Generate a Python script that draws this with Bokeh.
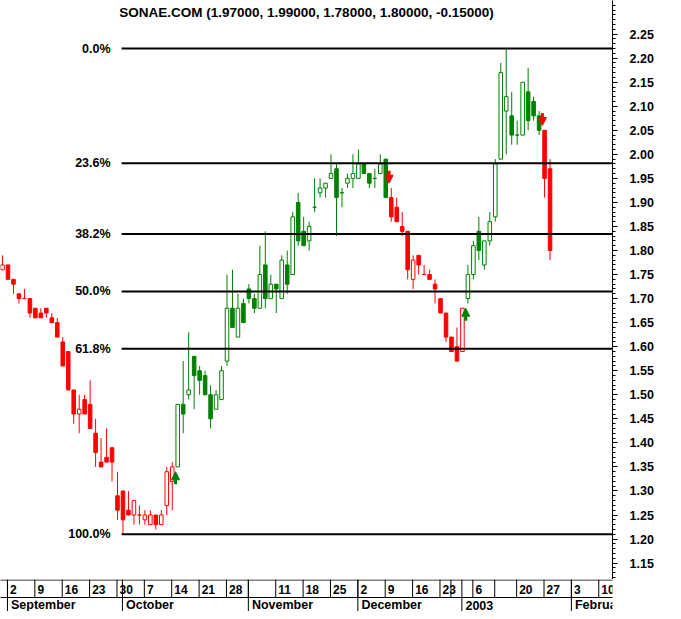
import numpy as np
from bokeh.plotting import figure
from bokeh.models import (ColumnDataSource, Range1d, LinearAxis, FixedTicker,
                          NumeralTickFormatter, Label, Arrow, NormalHead)
from bokeh.layouts import column
from bokeh.embed import file_html
from bokeh.resources import INLINE
from bokeh.core.properties import value

FONT = "Liberation Sans"
RED = "#ff0000"
GREEN = "#008000"

symbol = "SONAE.COM"

# trading-bar index (-1 = last bar of August, 0 = 2 Sep 2002, 99 = 28 Jan 2003)
bars = list(range(-1, 100))

opens = [1.76,
         1.77, 1.74, 1.71, 1.70, 1.70, 1.68, 1.67, 1.68, 1.66, 1.65,
         1.61, 1.59, 1.51, 1.46, 1.49, 1.48, 1.42, 1.36, 1.37, 1.39,
         1.29, 1.30, 1.26, 1.25, 1.25, 1.24, 1.23, 1.25, 1.23, 1.27,
         1.32, 1.35, 1.48, 1.50, 1.58, 1.55, 1.54, 1.50, 1.47, 1.49,
         1.57, 1.68, 1.62, 1.69, 1.72, 1.70, 1.68, 1.77, 1.70, 1.73,
         1.70, 1.77, 1.75, 1.90, 1.84, 1.82, 1.89, 1.92, 1.93, 1.95,
         1.97, 1.92, 1.94, 1.95, 1.95, 1.98, 1.96, 1.95, 1.96, 1.99,
         1.91, 1.89, 1.85, 1.84, 1.74, 1.79, 1.75, 1.75, 1.73, 1.70,
         1.67, 1.62, 1.60, 1.59, 1.70, 1.75, 1.84, 1.77, 1.82, 1.87,
         1.99, 2.09, 2.08, 2.04, 2.04, 2.13, 2.11, 2.08, 2.05, 1.97]

highs = [1.79,
         1.77, 1.74, 1.71, 1.72, 1.70, 1.68, 1.68, 1.68, 1.67, 1.66,
         1.62, 1.59, 1.51, 1.50, 1.50, 1.53, 1.45, 1.41, 1.43, 1.39,
         1.34, 1.30, 1.30, 1.28, 1.27, 1.26, 1.26, 1.25, 1.26, 1.35,
         1.36, 1.48, 1.57, 1.63, 1.58, 1.56, 1.55, 1.52, 1.51, 1.56,
         1.75, 1.76, 1.71, 1.70, 1.73, 1.71, 1.81, 1.84, 1.75, 1.73,
         1.79, 1.80, 1.88, 1.92, 1.87, 1.86, 1.95, 1.95, 1.94, 2.00,
         1.98, 1.93, 1.96, 2.00, 2.01, 1.98, 1.96, 1.97, 2.00, 1.99,
         1.93, 1.91, 1.88, 1.84, 1.79, 1.79, 1.77, 1.76, 1.74, 1.70,
         1.67, 1.62, 1.64, 1.68, 1.77, 1.82, 1.87, 1.82, 1.88, 1.99,
         2.19, 2.22, 2.13, 2.07, 2.15, 2.18, 2.12, 2.09, 2.05, 1.99]

lows = [1.76,
        1.74, 1.71, 1.69, 1.70, 1.66, 1.66, 1.66, 1.66, 1.65, 1.62,
        1.56, 1.51, 1.44, 1.42, 1.46, 1.43, 1.35, 1.35, 1.36, 1.32,
        1.24, 1.21, 1.25, 1.23, 1.23, 1.23, 1.23, 1.22, 1.23, 1.25,
        1.26, 1.35, 1.42, 1.49, 1.47, 1.50, 1.50, 1.43, 1.47, 1.49,
        1.56, 1.64, 1.62, 1.65, 1.69, 1.67, 1.68, 1.68, 1.70, 1.67,
        1.70, 1.71, 1.75, 1.81, 1.81, 1.80, 1.88, 1.91, 1.91, 1.95,
        1.83, 1.89, 1.93, 1.93, 1.95, 1.96, 1.93, 1.93, 1.96, 1.91,
        1.86, 1.86, 1.83, 1.74, 1.72, 1.75, 1.75, 1.74, 1.69, 1.67,
        1.61, 1.59, 1.57, 1.59, 1.69, 1.74, 1.78, 1.76, 1.81, 1.86,
        1.99, 2.00, 2.02, 2.02, 2.04, 2.05, 2.07, 2.04, 1.91, 1.78]

closes = [1.77,
          1.74, 1.73, 1.70, 1.70, 1.67, 1.66, 1.66, 1.67, 1.65, 1.62,
          1.56, 1.51, 1.46, 1.47, 1.46, 1.43, 1.38, 1.35, 1.36, 1.36,
          1.26, 1.24, 1.25, 1.28, 1.25, 1.25, 1.25, 1.23, 1.25, 1.34,
          1.35, 1.48, 1.46, 1.51, 1.54, 1.53, 1.50, 1.45, 1.50, 1.55,
          1.68, 1.64, 1.68, 1.65, 1.70, 1.68, 1.75, 1.70, 1.73, 1.72,
          1.78, 1.73, 1.87, 1.82, 1.81, 1.85, 1.89, 1.93, 1.94, 1.96,
          1.91, 1.92, 1.95, 1.96, 1.98, 1.96, 1.94, 1.95, 1.98, 1.91,
          1.87, 1.86, 1.84, 1.76, 1.78, 1.77, 1.75, 1.74, 1.72, 1.67,
          1.62, 1.59, 1.57, 1.68, 1.75, 1.81, 1.80, 1.82, 1.86, 1.98,
          2.17, 2.12, 2.04, 2.04, 2.15, 2.07, 2.08, 2.05, 1.95, 1.80]

# trend signals (bar, direction, arrow tip price)
signal_bar = [30, 69, 83, 97]
signal_dir = ["up", "down", "up", "down"]
signal_price = [1.34, 1.94, 1.68, 2.06]

fib_pct = [0.0, 23.6, 38.2, 50.0, 61.8, 100.0]

price_ticks = [1.15, 1.20, 1.25, 1.30, 1.35, 1.40, 1.45, 1.50, 1.55, 1.60, 1.65,
               1.70, 1.75, 1.80, 1.85, 1.90, 1.95, 2.00, 2.05, 2.10, 2.15, 2.20, 2.25]

week_bar = [0, 5, 10, 15, 20, 25, 30, 35, 40, 44, 49, 54, 59, 64, 69, 74, 79, 81,
            85, 89, 93, 98, 103, 108]
week_lbl = ["2", "9", "16", "23", "30", "7", "14", "21", "28", "", "11", "18", "25",
            "2", "9", "16", "23", "", "6", "", "20", "27", "3", "10"]
month_bar = [0, 21, 44, 64, 83, 103]
month_lbl = ["September", "October", "November", "December", "2003", "February"]

# ---------------------------------------------------------------- derived
colors = []
for b in bars:
    regime = "down"
    for sb, sd in zip(signal_bar, signal_dir):
        if sb < b:
            regime = sd
    colors.append(GREEN if regime == "up" else RED)
fills = ["white" if c > o else col for o, c, col in zip(opens, closes, colors)]
tops = [max(o, c) for o, c in zip(opens, closes)]
bots = [min(o, c) for o, c in zip(opens, closes)]

src = ColumnDataSource(dict(x=bars, high=highs, low=lows, top=tops, bottom=bots,
                            color=colors, fill=fills))

hi = max(highs)
lo = min(lows)
lo_bar = bars[lows.index(lo)]
levels = [hi - pct / 100.0 * (hi - lo) for pct in fib_pct]
fib_src = ColumnDataSource(dict(y=levels, label=["%.1f%%" % v for v in fib_pct]))

last = len(closes) - 1
title_text = "%s (%.5f, %.5f, %.5f, %.5f, %.5f)" % (
    symbol, opens[last], highs[last], lows[last], closes[last],
    closes[last] - closes[last - 1])

# ---------------------------------------------------------------- main chart
MAIN_H = 579
XR = Range1d(-1.37, 110.41)
YR = Range1d(2.3199 - MAIN_H / 480.9, 2.3199)

p = figure(width=673, height=MAIN_H, x_range=XR, y_range=YR, output_backend="svg",
           toolbar_location=None, x_axis_location=None, y_axis_location=None,
           min_border_left=0, min_border_right=61, min_border_top=0,
           min_border_bottom=0, background_fill_color="white",
           border_fill_color="white")
p.outline_line_color = None
p.grid.visible = False

yax = LinearAxis(ticker=FixedTicker(ticks=price_ticks,
                                    minor_ticks=np.round(np.arange(1.12, 2.325, 0.01), 2).tolist()),
                 formatter=NumeralTickFormatter(format="0.00"))
yax.axis_line_color = "black"
yax.major_tick_line_color = "black"
yax.minor_tick_line_color = "black"
yax.major_tick_out = 5
yax.major_tick_in = 0
yax.minor_tick_out = 3
yax.minor_tick_in = 0
yax.major_label_standoff = 12
yax.major_label_text_font = FONT
yax.major_label_text_font_style = "bold"
yax.major_label_text_font_size = "12.5px"
yax.major_label_text_color = "black"
p.add_layout(yax, "right")

# candles
p.segment(x0="x", y0="low", x1="x", y1="high", line_color="color", line_width=1,
          source=src)
p.vbar(x="x", width=0.65, top="top", bottom="bottom", fill_color="fill",
       line_color="color", line_width=1, source=src)

# fibonacci retracement lines and labels
p.segment(x0=lo_bar - 0.25, y0="y", x1=XR.end + 5, y1="y", line_color="black",
          line_width=2, source=fib_src)
p.text(x=lo_bar - 0.25, y="y", text="label", source=fib_src, x_offset=-11,
       text_align="right", text_baseline="middle", text_font=value(FONT),
       text_font_style="bold", text_font_size="12.5px", text_color="black")

# signal arrows
ALEN = 0.026
for d, col in (("up", GREEN), ("down", RED)):
    xs = [b + 0.6 for b, sd in zip(signal_bar, signal_dir) if sd == d]
    ys = [pr for pr, sd in zip(signal_price, signal_dir) if sd == d]
    y0 = [y - ALEN if d == "up" else y + ALEN for y in ys]
    asrc = ColumnDataSource(dict(x0=xs, y0=y0, x1=xs, y1=ys))
    p.add_layout(Arrow(end=NormalHead(size=8, fill_color=col, line_color=col, line_width=1),
                       x_start="x0", y_start="y0", x_end="x1", y_end="y1",
                       line_color=col, line_width=3, source=asrc))

p.add_layout(Label(x=306, y=MAIN_H - 12, x_units="screen", y_units="screen",
                   text=title_text, text_align="center", text_baseline="middle",
                   text_font=FONT, text_font_style="bold", text_font_size="13.5px",
                   text_color="black"))

# ---------------------------------------------------------------- date rows
ROW_H = 32
q = figure(width=673, height=ROW_H, x_range=XR, y_range=Range1d(0, ROW_H),
           output_backend="svg", toolbar_location=None, x_axis_location=None,
           y_axis_location=None, min_border_left=0, min_border_right=61,
           min_border_top=0, min_border_bottom=0, background_fill_color="white",
           border_fill_color="white")
q.outline_line_color = None
q.grid.visible = False

q.segment(x0=[XR.start - 5] * 2, x1=[XR.end + 5] * 2, y0=[31.5, 14], y1=[31.5, 14],
          line_color="black", line_width=1)
q.segment(x0=[b - 0.1 for b in week_bar], x1=[b - 0.1 for b in week_bar],
          y0=14, y1=32, line_color="black", line_width=1)
q.segment(x0=[b - 0.1 for b in month_bar], x1=[b - 0.1 for b in month_bar],
          y0=0, y1=32, line_color="black", line_width=1)
q.text(x=week_bar, y=22.5, text=week_lbl, x_offset=2, text_align="left",
       text_baseline="middle", text_font=value(FONT), text_font_style="bold",
       text_font_size="12px", text_color="black")
q.text(x=month_bar, y=6.5, text=month_lbl, x_offset=3, text_align="left",
       text_baseline="middle", text_font=value(FONT), text_font_style="bold",
       text_font_size="12.5px", text_color="black")

layout = column(p, q, spacing=0)
open("out.html", "w").write(file_html(layout, INLINE))
